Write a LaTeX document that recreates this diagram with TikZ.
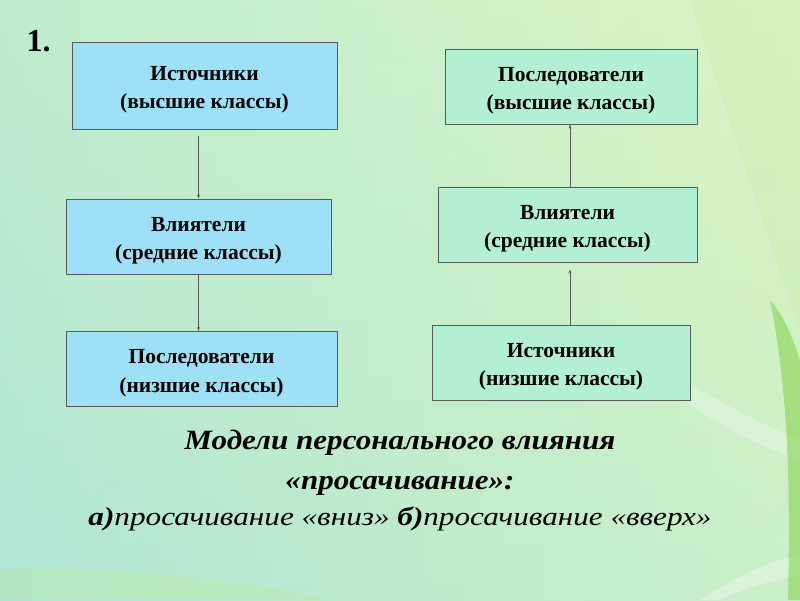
\documentclass[tikz,border=0pt]{standalone}
\usepackage{fontspec}
\usepackage{graphicx}
\setmainfont{Liberation Serif}
\usetikzlibrary{arrows.meta}
\definecolor{bluebox}{HTML}{9EE1F6}
\definecolor{mintbox}{HTML}{B3EFD3}
\definecolor{edge}{HTML}{5A5A5A}
\definecolor{bgleft}{RGB}{180,232,212}
\definecolor{bgmid}{RGB}{214,244,200}
\definecolor{bgright}{RGB}{222,246,192}
\definecolor{bgbottom}{RGB}{168,228,214}
\definecolor{leafgreen}{RGB}{130,210,70}
\definecolor{lightgreen}{RGB}{190,236,150}
\tikzset{
  box/.style={draw=edge, line width=0.9pt, minimum height=75pt},
  lbox/.style={box, fill=bluebox},
  rbox/.style={box, fill=mintbox},
  boxtext/.style={align=center, font=\fontsize{21.5}{28.5}\selectfont\bfseries, inner sep=0pt},
  conn/.style={draw=edge, line width=0.7pt, -{Stealth[length=4pt,width=3pt]}}
}
\begin{document}
\begin{tikzpicture}[x=1pt,y=-1pt]
\useasboundingbox (0,0) rectangle (800,600);
% background
\shade[left color=bgleft, middle color=bgmid, right color=bgright] (0,0) rectangle (800,600);
\shade[top color=bgmid, bottom color=bgbottom, opacity=0.35] (0,0) rectangle (800,600);
\fill[lightgreen, opacity=0.18] (690,0) .. controls (730,120) and (770,250) .. (800,330) -- (800,0) -- cycle;
\fill[white, opacity=0.25] (600,330) .. controls (680,380) and (750,420) .. (800,440) -- (800,460) .. controls (740,440) and (670,400) .. (600,330) -- cycle;
\fill[white, opacity=0.3] (700,600) .. controls (740,575) and (770,560) .. (800,555) -- (800,575) .. controls (770,580) and (740,590) .. (720,600) -- cycle;
\fill[leafgreen, opacity=0.55] (770,300) .. controls (790,400) and (790,500) .. (788,600) -- (800,600) -- (800,360) .. controls (790,330) and (780,310) .. (770,300) -- cycle;
\fill[lightgreen, opacity=0.3] (0,570) .. controls (120,565) and (250,580) .. (330,600) -- (0,600) -- cycle;

\node[font=\fontsize{32}{32}\selectfont\bfseries, inner sep=0pt] (num) at (38.5,41.5) {1.};

\node[lbox, minimum width=265pt, minimum height=87pt] (l1) at (204.5,85.5) {};
\node[lbox, minimum width=265pt] (l2) at (198.5,236.5) {};
\node[lbox, minimum width=271pt] (l3) at (201.5,369) {};
\node[rbox, minimum width=252pt] (r1) at (571,86.5) {};
\node[rbox, minimum width=259pt] (r2) at (567.5,224.5) {};
\node[rbox, minimum width=258pt] (r3) at (561,362.5) {};

\node[boxtext] (l1t) at ([yshift=-4pt]l1.center) {Источники\\(высшие классы)};
\node[boxtext] (l2t) at ([yshift=-4pt]l2.center) {Влиятели\\(средние классы)};
\node[boxtext] (l3t) at ([yshift=-4pt]l3.center) {Последователи\\(низшие классы)};
\node[boxtext] (r1t) at ([yshift=-4pt]r1.center) {Последователи\\(высшие классы)};
\node[boxtext] (r2t) at ([yshift=-4pt]r2.center) {Влиятели\\(средние классы)};
\node[boxtext] (r3t) at ([yshift=-4pt]r3.center) {Источники\\(низшие классы)};

\draw[conn] ([xshift=-6pt,yshift=-7pt]l1.south) -- ([xshift=-6pt]l1.south |- l2.north);
\draw[conn] (l2.south) -- (l2.south |- l3.north);
\draw[conn] ([xshift=2.5pt]r2.north) -- ([xshift=2.5pt]r2.north |- r1.south);
\draw[conn] ([xshift=9pt]r3.north) -- ([xshift=9pt,yshift=-7pt]r3.north |- r2.south);

\node[align=center, font=\fontsize{28}{40}\selectfont\bfseries\itshape] (cap) at (400,463) {\scalebox{1.11}[1]{Модели персонального влияния}\\\scalebox{1.11}[1]{«просачивание»:}};
\node[font=\fontsize{26}{26}\selectfont\itshape] (sub) at (400,519) {\scalebox{1.2}[1]{\textbf{а)}просачивание «вниз» \textbf{б)}просачивание «вверх»}};
\end{tikzpicture}
\end{document}
